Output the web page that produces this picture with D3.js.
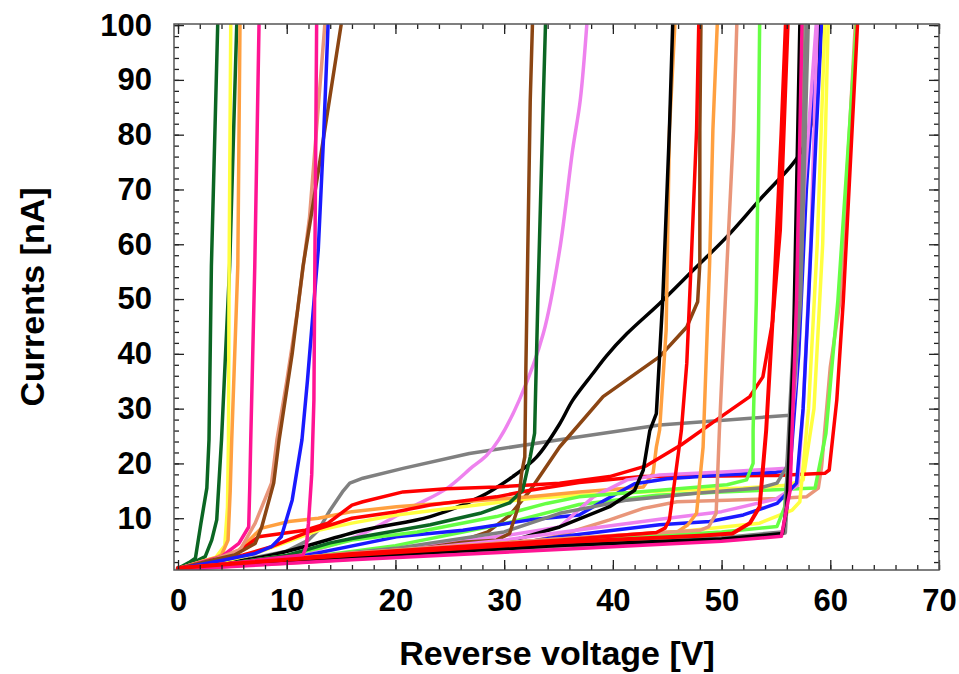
<!DOCTYPE html>
<html>
<head>
<meta charset="utf-8">
<script src="https://cdn.jsdelivr.net/npm/d3@7"></script>
<style>
  body { margin: 0; background: #fff; }
  svg text { font-family: "Liberation Sans", Arial, sans-serif; font-weight: bold; }
</style>
</head>
<body>
<svg id="chart" width="959" height="674"></svg>
<script>
// each curve: [reverse voltage V, current nA]
let darkGreen1 = [[0,0.8],[1,1.9],[1.6,2.7],[2.1,9],[2.65,15.5],[2.85,24.3],[3.07,56],[3.65,100]]
let darkGreen2 = [[0,0.8],[1.5,2],[2.5,3],[3.1,6],[3.56,9.7],[4.0,24.3],[4.75,56],[5.4,100]]
let darkGreen3 = [[0,0.8],[5,1.8],[10,3.2],[14,5.5],[16,6.3],[23.2,8.8],[27.8,10.9],[30.5,12.8],[31.7,15.1],[32.4,21.2],[32.8,25.5],[33.1,49.8],[33.6,86.3],[33.8,100]]
let yellow1 = [[0,0.8],[2,2],[3.5,2.9],[4.3,5],[4.55,12],[4.64,24.3],[4.7,56],[4.85,100]]
let yellow2 = [[0,0.8],[4,2],[7,3.5],[9.8,5.5],[12.9,7.8],[16,9.1],[20.1,10.6],[26.2,12.1],[32.4,13.6],[36.9,14.2],[45,15],[52,15.5],[56,16],[57.5,17],[58.5,30],[59.3,60],[59.8,100]]
let yellow3 = [[0,0.8],[10,2.2],[20,3.4],[30,4.8],[40,6.3],[47.3,7.8],[53.5,9.1],[56.5,11.5],[57.2,13],[58,30],[58.8,60],[59.5,100]]
let orange1 = [[0,0.8],[2,2],[3.5,2.8],[4.0,3.3],[4.6,6],[4.8,15],[4.94,24.3],[5.5,56],[5.7,100]]
let orange2 = [[0,0.8],[3,2.5],[4.5,3.3],[5.6,4.2],[6.8,6.5],[7.7,8.2],[10.2,9.4],[12.9,10],[16,11.2],[20.1,12.1],[26.2,13],[32.4,13.9],[36.9,14.8],[42.8,15.7],[43.7,18.2],[44,23],[44.3,26.1],[44.9,44.3],[45.2,80.8],[45.7,100]]
let orange3 = [[0,0.9],[16,3.6],[35,6.2],[46,7.6],[46.9,8.8],[47.7,10.9],[48.3,23],[48.9,56.5],[49.2,80.8],[49.6,100]]
let deepPink1 = [[0,0.8],[2,1.9],[4.0,3.0],[5.6,5.4],[6.5,8.4],[6.6,15.7],[6.69,24.3],[7.06,56],[7.45,100]]
let deepPink2 = [[0,0.8],[5,1.8],[11.5,3.3],[11.8,4.8],[12.0,9.1],[12.3,18],[12.5,31.6],[12.6,60],[12.75,100]]
let deepPink3 = [[0,0.6],[5,1.2],[16,2.4],[35,4.3],[50,5.8],[55.5,6.7],[56.3,15],[56.9,50],[57.4,100]]
let salmon1 = [[0,0.8],[3,2.2],[5.7,4.2],[7.1,9.1],[8.6,16.4],[9.1,24.3],[10,35],[11,48],[12.1,65],[12.7,80],[13.5,100]]
let salmon2 = [[0,0.9],[16,3.6],[35,6.2],[48,7.8],[48.8,8.4],[49.5,10.9],[49.8,26.1],[50.5,56.5],[51.1,80.8],[51.4,100]]
let salmon3 = [[0,0.7],[10,1.8],[20,3],[30,4.8],[35,6.8],[39.7,9.7],[42.8,11.8],[45.9,13],[50.5,13.3],[55.1,13.6],[57.8,13.9],[58.9,15.5],[59.2,19.4],[60,37.6],[60.9,49.8],[62.3,100]]
let blue1 = [[0,0.8],[4,2.3],[7,3.5],[8.6,4.8],[9.5,6.6],[10.5,13.3],[11.4,24.3],[11.9,35],[12.4,47],[12.9,59],[13.4,80],[13.8,100]]
let blue2 = [[0,0.8],[10,2.5],[20.1,6.6],[26.2,7.8],[32.4,9.7],[36.9,10.6],[39,13],[42,16.3],[45,17.2],[50,17.9],[55,18.4],[56.3,19],[57.1,40],[57.8,70],[58.8,100]]
let blue3 = [[0,0.7],[10,2],[20,3.3],[30,5],[35.1,6.6],[44.3,8.8],[48.9,9.4],[52,10.6],[55.1,12.7],[56.9,16.4],[57.5,30],[58,50],[58.7,80],[59.2,100]]
let brown1 = [[0,0.8],[3,2.3],[5.2,3.3],[7.1,5.4],[7.7,8.4],[8.8,16.4],[9.3,24.3],[10.5,40],[11.5,56],[13,74.5],[15,100]]
let brown2 = [[0,0.8],[10,2.2],[20,3.8],[26.2,5.6],[29.3,6],[30.5,7.2],[31.3,12.1],[31.6,18.2],[31.9,21.2],[32,37.6],[32.4,86.3],[32.6,100]]
let brown3 = [[0,0.8],[10,2.3],[20,4.2],[26,5.8],[28.5,7.5],[30.5,10.5],[32.4,15.1],[35.1,23],[39.1,32.2],[44.3,39.5],[46.8,44.9],[47.8,49.5],[48,56.5],[48,80.8],[48.1,100]]
let violet1 = [[0,0.8],[5,1.8],[10,3],[14,5],[17,7.2],[21.6,12.1],[24.7,15.4],[27.1,19.4],[28.4,21.5],[29.5,24.3],[31.4,31.6],[33.6,43.7],[35.1,58.9],[36.3,77.2],[37,86.3],[37.6,100]]
let violet2 = [[0,0.8],[10,2.3],[20,4.2],[30,6.8],[35.1,8.4],[38.2,13.9],[41.3,17],[44.3,17.9],[50.5,18.5],[56,19.1],[56.8,35],[57.6,70],[58.7,100]]
let violet3 = [[0,0.8],[10,2.2],[20,4],[30,6],[35.1,7.4],[44.3,9.8],[50,11.2],[55,13.5],[57,16],[57.5,30],[58.2,60],[58.8,100]]
let black1 = [[0,0.8],[8,3],[17,7.8],[23.2,10.3],[27.8,13.9],[30.8,17.6],[33,21.2],[35.1,27.2],[36.3,31.5],[38.2,36.5],[39.4,39.6],[41.3,43.7],[44.3,49.2],[47.4,55.3],[50.5,61.4],[53.5,68.1],[56.6,74.8],[57.6,78],[58.4,83.3],[59,100]]
let black2 = [[0,0.8],[10,2],[20,3.5],[30,5.5],[35.1,8.4],[39.7,12.1],[42,15.1],[42.8,18.8],[43.4,26],[44,29.1],[44.6,50.4],[45.2,80.8],[45.5,100]]
let black3 = [[0,0.8],[5,1.5],[16,2.9],[35,5],[50,6.2],[55.6,7.2],[56,12],[56.6,40],[57.2,100]]
let gray1 = [[0,0.8],[5,2],[10,4],[12,6],[12.9,7.8],[14,11.5],[15.2,15],[15.8,16.4],[17,17.3],[20.7,19.1],[26.8,21.8],[36,24.6],[44.3,27],[56.3,28.8],[56.8,40],[57.3,70],[57.8,100]]
let gray2 = [[0,0.8],[5,1.5],[16,2.9],[35,5],[50,6.3],[55.8,7.4],[56.3,25.5],[57.2,49.8],[57.9,100]]
let gray3 = [[0,0.8],[10,2.5],[20,4.5],[30,7.5],[35.1,10.9],[41.3,13.3],[47.4,14.5],[53.5,15.5],[55.1,16.4],[56,19.4],[56.8,50],[57.5,100]]
let green1 = [[0,0.8],[5,1.8],[10,3.2],[13.5,4.8],[16,6],[22,7.5],[29.3,10.3],[33.9,12.7],[36.9,13.9],[44.3,15.1],[50.5,16.1],[52.3,17],[52.9,20],[52.9,26],[53.2,50],[53.4,80.8],[53.5,100]]
let green2 = [[0,0.8],[10,2.2],[20,3.5],[30,5],[40,6.3],[50,7.5],[55.1,8.5],[55.8,12],[56.5,30],[57,60],[57.4,100]]
let green3 = [[0,0.8],[10,2.4],[20,5],[30,9],[36.9,12.5],[44,14.2],[50,14.8],[55,15.2],[58.6,15.5],[59.6,25.5],[60.7,49.8],[62.4,100]]
let redA = [[0,0.8],[2,1.6],[5,3],[7.4,6.6],[11.7,7.8],[13.8,9.1],[16,12.4],[17,13],[20.7,14.8],[24.7,15.4],[29.3,15.7],[35.1,16.4],[39.7,17.6],[43,19.5],[46.3,23.4],[49.5,27.9],[52.6,32.2],[53.8,35.8],[54.7,46],[55.4,62.6],[56.1,100]]
let redB = [[0,0.8],[3,1.8],[6,3.3],[8.6,4.8],[12,7.5],[16,10],[20.1,11.2],[23.2,12.4],[29.3,13.9],[32.4,15.1],[36.9,16.5],[42.7,17.6],[50,17.7],[55,17.8],[59.5,18.2],[59.9,18.8],[60.6,31.6],[61.2,49.8],[62.5,100]]
let redC = [[0,0.9],[5,1.8],[16,3.5],[35,6],[44,7.4],[44.8,8.2],[45.2,9.7],[45.7,17],[46.3,26],[46.8,38.3],[47.2,56.5],[47.7,80.8],[47.9,100]]
let redD = [[0,0.9],[5,1.7],[16,3.3],[35,5.6],[48,6.8],[51,7.2],[52.6,9.1],[53.5,12.1],[54.1,26],[54.8,50],[55.5,80],[55.9,100]]

let xTicks = [0, 10, 20, 30, 40, 50, 60, 70]
let yTicks = [10, 20, 30, 40, 50, 60, 70, 80, 90, 100]

let colors = {
    darkGreen: "#0b6623", yellow: "#ffff40", orange: "#ffa040", deepPink: "#ff1493",
    salmon: "#e9967a", blue: "#1a1aff", brown: "#8b4513", violet: "#ee82ee",
    black: "#000000", gray: "#808080", green: "#66ff44", red: "#ff0000"
}

let curves = [
    { pts: gray1, color: colors.gray },
    { pts: violet1, color: colors.violet, smooth: true },
    { pts: black1, color: colors.black, smooth: true },
    { pts: brown3, color: colors.brown },
    { pts: salmon3, color: colors.salmon },
    { pts: green3, color: colors.green },
    { pts: yellow2, color: colors.yellow },
    { pts: orange2, color: colors.orange },
    { pts: redB, color: colors.red },
    { pts: redA, color: colors.red },
    { pts: blue2, color: colors.blue },
    { pts: violet2, color: colors.violet },
    { pts: gray3, color: colors.gray },
    { pts: green1, color: colors.green },
    { pts: darkGreen3, color: colors.darkGreen },
    { pts: black2, color: colors.black },
    { pts: brown2, color: colors.brown },
    { pts: violet3, color: colors.violet },
    { pts: blue3, color: colors.blue },
    { pts: yellow3, color: colors.yellow },
    { pts: green2, color: colors.green },
    { pts: orange3, color: colors.orange },
    { pts: salmon2, color: colors.salmon },
    { pts: redC, color: colors.red },
    { pts: darkGreen1, color: colors.darkGreen },
    { pts: darkGreen2, color: colors.darkGreen },
    { pts: yellow1, color: colors.yellow },
    { pts: orange1, color: colors.orange },
    { pts: deepPink1, color: colors.deepPink },
    { pts: salmon1, color: colors.salmon },
    { pts: brown1, color: colors.brown },
    { pts: blue1, color: colors.blue },
    { pts: deepPink2, color: colors.deepPink },
    { pts: gray2, color: colors.gray, width: 5 },
    { pts: black3, color: colors.black },
    { pts: deepPink3, color: colors.deepPink },
    { pts: redD, color: colors.red, width: 4 }
]

let svg = d3.select("#chart")
let plotLeft = 174, plotRight = 939, plotTop = 24, plotBottom = 570

let xScale = d3.scaleLinear().domain([-0.37, 70]).range([plotLeft, plotRight])
let yScale = d3.scaleLinear().domain([0.55, 100.2]).range([plotBottom, plotTop])

svg.append("clipPath").attr("id", "plotClip")
    .append("rect")
    .attr("x", plotLeft).attr("y", plotTop)
    .attr("width", plotRight - plotLeft).attr("height", plotBottom - plotTop)

let line = d3.line()
    .x(d => xScale(d[0]))
    .y(d => yScale(d[1]))

let smoothLine = d3.line()
    .x(d => xScale(d[0]))
    .y(d => yScale(d[1]))
    .curve(d3.curveCatmullRom.alpha(0.5))

svg.append("g")
    .attr("clip-path", "url(#plotClip)")
    .selectAll("path")
    .data(curves)
    .enter()
    .append("path")
    .attr("d", d => d.smooth ? smoothLine(d.pts) : line(d.pts))
    .attr("fill", "none")
    .attr("stroke", d => d.color)
    .attr("stroke-width", d => d.width || 3.5)
    .attr("stroke-linejoin", "round")
    .attr("stroke-linecap", "round")

let minorX = d3.range(0, 71, 2)
let minorY = d3.range(2, 101, 2)

let drawAxis = (axis, transform, showLabels) => {
    let g = svg.append("g").attr("transform", transform).call(axis)
    g.select(".domain").remove()
    g.selectAll("line").attr("stroke", "#222").attr("stroke-width", 1.3)
    if (!showLabels) g.selectAll("text").remove()
    return g
}

// minor ticks
drawAxis(d3.axisBottom(xScale).tickValues(minorX).tickSize(-5).tickFormat(""), `translate(0,${plotBottom})`, false)
drawAxis(d3.axisTop(xScale).tickValues(minorX).tickSize(-5).tickFormat(""), `translate(0,${plotTop})`, false)
drawAxis(d3.axisLeft(yScale).tickValues(minorY).tickSize(-5).tickFormat(""), `translate(${plotLeft},0)`, false)
drawAxis(d3.axisRight(yScale).tickValues(minorY).tickSize(-5).tickFormat(""), `translate(${plotRight},0)`, false)

// major ticks
let xAxis = drawAxis(d3.axisBottom(xScale).tickValues(xTicks).tickSize(-10).tickPadding(19), `translate(0,${plotBottom})`, true)
drawAxis(d3.axisTop(xScale).tickValues(xTicks).tickSize(-10), `translate(0,${plotTop})`, false)
let yAxis = drawAxis(d3.axisLeft(yScale).tickValues(yTicks).tickSize(-10).tickPadding(22), `translate(${plotLeft},0)`, true)
drawAxis(d3.axisRight(yScale).tickValues(yTicks).tickSize(-10), `translate(${plotRight},0)`, false)

xAxis.selectAll("text").attr("font-size", 31).attr("fill", "#000")
yAxis.selectAll("text").attr("font-size", 31).attr("fill", "#000")

svg.append("rect")
    .attr("x", plotLeft).attr("y", plotTop)
    .attr("width", plotRight - plotLeft).attr("height", plotBottom - plotTop)
    .attr("fill", "none")
    .attr("stroke", "#555")
    .attr("stroke-width", 1.5)

svg.append("text")
    .attr("x", (398 + 716) / 2)
    .attr("y", 665)
    .attr("text-anchor", "middle")
    .attr("font-size", 34)
    .text("Reverse voltage [V]")

svg.append("text")
    .attr("transform", "translate(44,297) rotate(-90)")
    .attr("text-anchor", "middle")
    .attr("font-size", 34)
    .text("Currents [nA]")
</script>
</body>
</html>
